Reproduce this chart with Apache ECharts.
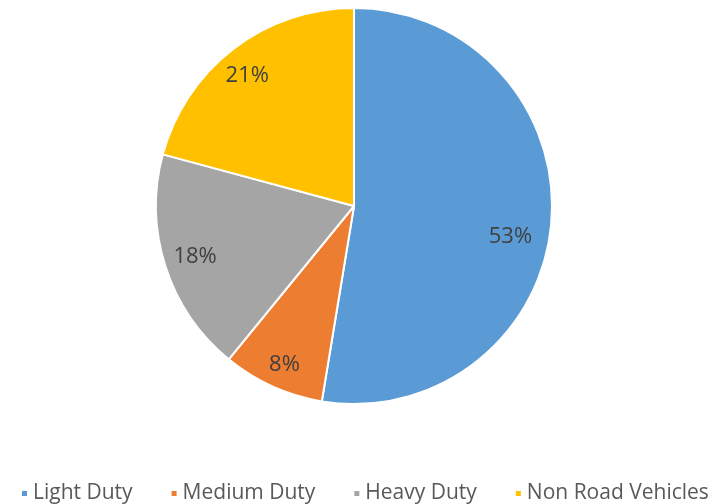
<!DOCTYPE html>
<html><head><meta charset="utf-8">
<script src="https://cdn.jsdelivr.net/npm/echarts@6/dist/echarts.min.js"></script>
<style>html,body{margin:0;padding:0;background:#fff}#c{width:712px;height:504px}</style>
</head><body><div id="c"></div>
<script>
const categories = ['Light Duty', 'Medium Duty', 'Heavy Duty', 'Non Road Vehicles'];
const values = [52.6, 8.3, 18.3, 20.8];

// styling
const colors = ['#5B9BD5', '#ED7D31', '#A5A5A5', '#FFC000'];
const labelShift = [[-12, 17], [0, 5], [2, -1], [-4, 4]];

const data = categories.map((n, i) => ({ name: n, value: values[i], itemStyle: { color: colors[i] } }));
const chart = echarts.init(document.getElementById('c'));
chart.setOption({
  animation: false,
  legend: {
    top: 478, left: 15, width: 697, itemWidth: 7, itemHeight: 7, itemGap: 37, icon: 'rect',
    textStyle: { fontFamily: 'Open Sans', fontSize: 21, color: '#595959' },
    data: categories
  },
  series: [{
    type: 'pie', center: [354, 206], radius: [0, 198], startAngle: 90, clockwise: true,
    itemStyle: { borderColor: '#fff', borderWidth: 2 },
    label: { show: false }, labelLine: { show: false },
    data: data
  }, {
    type: 'pie', center: [354, 206], radius: [134, 198], startAngle: 90, clockwise: true,
    silent: true, legendHoverLink: false, percentPrecision: 0,
    itemStyle: { color: 'rgba(0,0,0,0)' },
    label: { show: true, position: 'inside', formatter: '{d}%', fontFamily: 'Open Sans', fontSize: 22, color: '#404040' },
    labelLine: { show: false },
    data: categories.map((n, i) => ({ name: n, value: values[i], label: { offset: labelShift[i] } }))
  }]
});
</script></body></html>
